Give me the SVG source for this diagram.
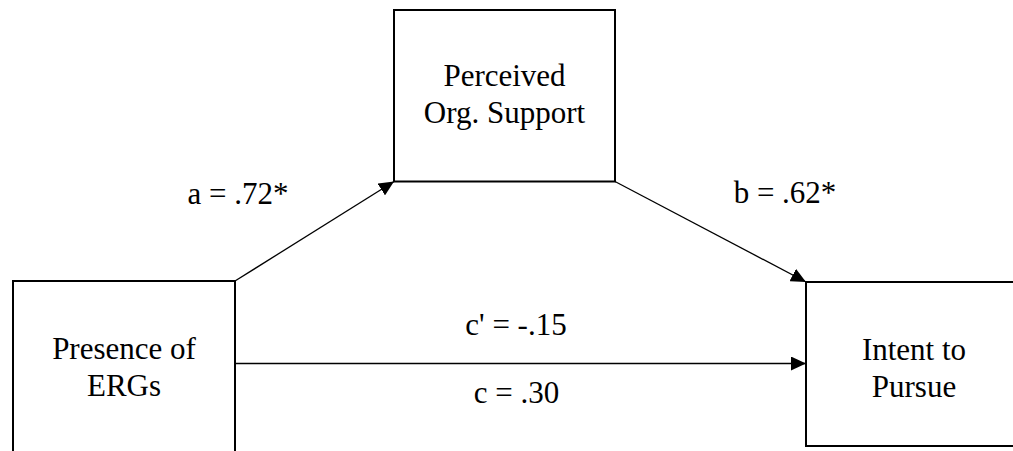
<svg xmlns="http://www.w3.org/2000/svg" width="1013" height="451" viewBox="0 0 1013 451">
  <style>
    .box { fill: #ffffff; stroke: #000000; stroke-width: 2; }
    .lbl { font-family: "Liberation Serif", "Times New Roman", serif; font-size: 31px; fill: #000000; text-anchor: middle; }
    .edge { stroke: #000000; stroke-width: 1.3; fill: none; marker-end: url(#arrow); }
  </style>
  <defs>
    <marker id="arrow" markerUnits="userSpaceOnUse" markerWidth="16" markerHeight="14" refX="15" refY="7" orient="auto">
      <path d="M0,0 L15,7 L0,14 Z" fill="#000000"/>
    </marker>
  </defs>
  <rect width="1013" height="451" fill="#ffffff"/>
  <g id="connectors">
    <line class="edge" x1="235" y1="281" x2="394" y2="181.5"/>
    <line class="edge" x1="615" y1="181.5" x2="806" y2="282"/>
    <line class="edge" x1="235" y1="363.5" x2="806" y2="363.5"/>
  </g>
  <g id="node-presence">
    <rect class="box" x="13" y="281" width="222" height="190"/>
    <text class="lbl" x="124" y="359">Presence of</text>
    <text class="lbl" x="124" y="396">ERGs</text>
  </g>
  <g id="node-pos">
    <rect class="box" x="394" y="10" width="221" height="171.5"/>
    <text class="lbl" x="504.5" y="86">Perceived</text>
    <text class="lbl" x="504.5" y="122.5">Org. Support</text>
  </g>
  <g id="node-intent">
    <rect class="box" x="806" y="282" width="216" height="164"/>
    <text class="lbl" x="914" y="360">Intent to</text>
    <text class="lbl" x="914" y="396.5">Pursue</text>
  </g>
  <g id="labels">
    <text class="lbl" x="238" y="204">a = .72*</text>
    <text class="lbl" x="785" y="203">b = .62*</text>
    <text class="lbl" x="516" y="335">c' = -.15</text>
    <text class="lbl" x="516.5" y="403">c = .30</text>
  </g>
</svg>
